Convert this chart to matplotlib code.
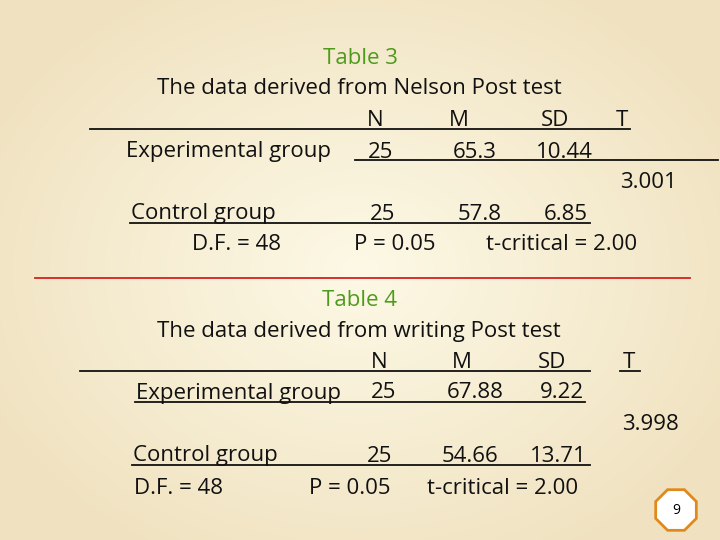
import numpy as np
import matplotlib.pyplot as plt
from matplotlib.patches import RegularPolygon

plt.rcParams['font.family'] = ['Open Sans', 'DejaVu Sans']

titles = ["Table 3", "Table 4"]
subtitles = ["The data derived from Nelson Post test", "The data derived from writing Post test"]
headers = ["N", "M", "SD", "T"]
exp_vals = [["25", "65.3", "10.44"], ["25", "67.88", "9.22"]]
ctl_vals = [["25", "57.8", "6.85"], ["25", "54.66", "13.71"]]
t_vals = ["3.001", "3.998"]
df_text = "D.F. = 48"
p_text = "P = 0.05"
tcrit_text = "t-critical = 2.00"

fig = plt.figure(figsize=(7.2, 5.4), dpi=100)
ax = fig.add_axes([0, 0, 1, 1])
ax.set_xlim(0, 720)
ax.set_ylim(540, 0)
ax.axis('off')

# radial beige background
yy, xx = np.mgrid[0:540, 0:720]
r = np.sqrt(((xx - 360) / 420) ** 2 + ((yy - 270) / 330) ** 2)
r = np.clip(r, 0, 1)[..., None]
c_in = np.array([253, 249, 230]) / 255
c_out = np.array([240, 226, 192]) / 255
ax.imshow(c_in * (1 - r) + c_out * r, extent=[0, 720, 540, 0], zorder=0)

fs = 16
green = '#4e9a1c'
kw = dict(fontsize=fs, color='#111111', va='center', ha='center')
dy = 2  # small downward shift of all text


def txt(x, y, s, **extra):
    d = dict(kw)
    d.update(extra)
    ax.text(x, y + dy, s, **d)


def line(x0, x1, y, color='#111111', lw=1.3):
    ax.plot([x0, x1], [y, y], color=color, lw=lw)


# Table 3
txt(360, 56, titles[0], color=green)
txt(359, 87, subtitles[0])
for x, h in zip([375, 459, 555, 622], headers):
    txt(x, 118, h)
line(90, 630, 129)
txt(229, 150, "Experimental group")
for x, v in zip([381, 475, 564], exp_vals[0]):
    txt(x, 150, v)
line(355, 718, 160)
txt(648, 181, t_vals[0])
txt(203, 212, "Control group")
for x, v in zip([383, 480, 566], ctl_vals[0]):
    txt(x, 212, v)
line(130, 590, 223)
txt(236, 243, df_text)
txt(395, 243, p_text)
txt(562, 243, tcrit_text)
line(35, 690, 278, color='#d62020', lw=1.3)

# Table 4
txt(360, 298, titles[1], color=green)
txt(359, 329, subtitles[1])
for x, h in zip([379, 462, 552, 629], headers):
    txt(x, 360, h)
line(80, 590, 371)
line(620, 640, 371)
txt(238, 391, "Experimental group")
for x, v in zip([384, 475, 562], exp_vals[1]):
    txt(x, 391, v)
line(135, 585, 402)
txt(650, 423, t_vals[1])
txt(205, 454, "Control group")
for x, v in zip([380, 470, 558], ctl_vals[1]):
    txt(x, 454, v)
line(132, 590, 465)
txt(178, 486, df_text)
txt(350, 486, p_text)
txt(503, 486, tcrit_text)

# page badge
ax.add_patch(RegularPolygon((676, 510), numVertices=8, radius=22,
                            facecolor='white', edgecolor='#e08a1e', lw=2,
                            orientation=np.pi / 8, zorder=3))
ax.text(676, 510, "9", fontsize=10, ha='center', va='center', zorder=4)

fig.savefig('out.png', dpi=100)
